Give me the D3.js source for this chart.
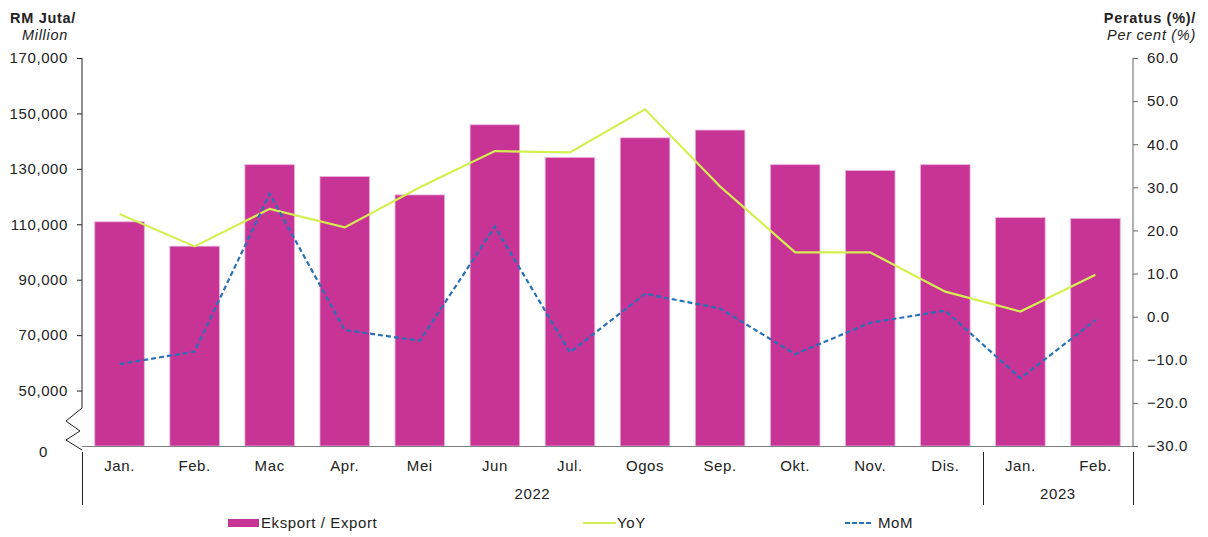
<!DOCTYPE html>
<meta charset="utf-8">
<head>
<style>
body { margin: 0; background: #fff; }
text { font-family: "Liberation Sans", Arial, sans-serif; fill: #222; }
.lbl, .tick text { font-size: 15px; letter-spacing: 0.6px; }
.ttl { font-size: 14.5px; letter-spacing: 0.7px; }
</style>
<script src="https://d3js.org/d3.v7.min.js"></script>
</head>
<body>
<svg width="1208" height="537"></svg>
<script>

var months = ["Jan.", "Feb.", "Mac", "Apr.", "Mei", "Jun", "Jul.", "Ogos", "Sep.", "Okt.", "Nov.", "Dis.", "Jan.", "Feb."];
var years = [{ label: "2022", from: 0, to: 12 }, { label: "2023", from: 12, to: 14 }];
var exportValues = [110900, 102100, 131500, 127200, 120600, 145900, 134100, 141200, 144000, 131500, 129400, 131500, 112400, 112100];
var yoyValues = [23.8, 16.3, 25.0, 20.7, 30.0, 38.4, 38.1, 48.1, 30.2, 14.9, 14.9, 5.8, 1.2, 9.7];
var momValues = [-11.0, -8.1, 28.5, -3.1, -5.6, 20.9, -8.3, 5.3, 1.9, -8.7, -1.4, 1.4, -14.3, -0.8];
var leftTicks = [50000, 70000, 90000, 110000, 130000, 150000, 170000];
var rightTicks = [-30, -20, -10, 0, 10, 20, 30, 40, 50, 60];

var svg = d3.select("svg"),
    plotL = 82, plotR = 1133, plotT = 58, plotB = 446;

var x = d3.scaleBand()
    .domain(d3.range(months.length))
    .range([plotL, plotR])
    .paddingInner(0.34)
    .paddingOuter(0.17);

var yL = d3.scaleLinear().domain([30000, 170000]).range([plotB, plotT]); // broken axis: base shown as 0
var yR = d3.scaleLinear().domain([-30, 60]).range([plotB, plotT]);

var fmt = d3.format(",");

// bars
svg.append("g").selectAll("rect")
    .data(exportValues)
    .enter().append("rect")
      .attr("x", function(d, i) { return x(i); })
      .attr("width", x.bandwidth())
      .attr("y", function(d) { return yL(d); })
      .attr("height", function(d) { return plotB - yL(d); })
      .attr("fill", "#c83396")
      .attr("stroke", "#eab0db")
      .attr("stroke-width", 0.8);

// baseline
svg.append("line")
    .attr("x1", plotL).attr("x2", plotR)
    .attr("y1", plotB + 0.5).attr("y2", plotB + 0.5)
    .attr("stroke", "#7f7f7f").attr("stroke-width", 1.2);

// left axis
var gL = svg.append("g")
    .attr("transform", "translate(" + plotL + ",0)")
    .call(d3.axisLeft(yL).tickValues(leftTicks).tickFormat(fmt).tickSize(5).tickPadding(9));
gL.select(".domain").remove();
gL.selectAll(".tick line").attr("stroke", "#222");
svg.append("path")
    .attr("d", "M" + plotL + "," + plotT + "V408L66,421L80,431L66,440L" + plotL + ",450")
    .attr("fill", "none").attr("stroke", "#222").attr("stroke-width", 1);
svg.append("text")
    .attr("class", "lbl")
    .attr("x", 48).attr("y", 452).attr("dy", "0.32em")
    .attr("text-anchor", "end")
    .text("0");

// right axis
var gR = svg.append("g")
    .attr("transform", "translate(" + plotR + ",0)")
    .call(d3.axisRight(yR).tickValues(rightTicks).tickFormat(d3.format(".1f")).tickSize(5).tickPadding(9));
gR.select(".domain").attr("stroke", "#666").attr("d", "M0," + plotT + "V" + plotB);
gR.selectAll(".tick line").attr("stroke", "#666");

// lines
var line = function(vals) {
  return d3.line()
      .x(function(d, i) { return x(i) + x.bandwidth() / 2; })
      .y(function(d) { return yR(d); })(vals);
};
svg.append("path")
    .attr("d", line(yoyValues))
    .attr("fill", "none").attr("stroke", "#d4ef50").attr("stroke-width", 2.2);
svg.append("path")
    .attr("d", line(momValues))
    .attr("fill", "none").attr("stroke", "#2a72b6").attr("stroke-width", 2.2)
    .attr("stroke-dasharray", "5,3");

// category labels
svg.append("g").selectAll("text")
    .data(months)
    .enter().append("text")
      .attr("class", "lbl")
      .attr("x", function(d, i) { return x(i) + x.bandwidth() / 2; })
      .attr("y", 466).attr("dy", "0.32em")
      .attr("text-anchor", "middle")
      .text(function(d) { return d; });

var step = x.step();
svg.append("g").selectAll("text")
    .data(years)
    .enter().append("text")
      .attr("class", "lbl")
      .attr("x", function(d) { return plotL + step * (d.from + d.to) / 2; })
      .attr("y", 494).attr("dy", "0.32em")
      .attr("text-anchor", "middle")
      .text(function(d) { return d.label; });

svg.append("g").selectAll("line")
    .data([0, 12, 14])
    .enter().append("line")
      .attr("x1", function(d) { return Math.round(plotL + step * d) + 0.5; })
      .attr("x2", function(d) { return Math.round(plotL + step * d) + 0.5; })
      .attr("y1", 452).attr("y2", 505)
      .attr("stroke", "#222");

// axis titles
svg.append("text").attr("class", "ttl").attr("x", 10).attr("y", 23)
    .style("font-weight", "bold").text("RM Juta/");
svg.append("text").attr("class", "ttl").attr("x", 68).attr("y", 40)
    .attr("text-anchor", "end").style("font-style", "italic").text("Million");
svg.append("text").attr("class", "ttl").attr("x", 1196).attr("y", 23)
    .attr("text-anchor", "end").style("font-weight", "bold").text("Peratus (%)/");
svg.append("text").attr("class", "ttl").attr("x", 1196).attr("y", 40)
    .attr("text-anchor", "end").style("font-style", "italic").text("Per cent (%)");

// legend
var lg = svg.append("g");
lg.append("rect").attr("x", 228).attr("y", 519).attr("width", 31).attr("height", 8).attr("fill", "#c83396");
lg.append("text").attr("class", "lbl").attr("x", 261).attr("y", 523).attr("dy", "0.32em").text("Eksport / Export");
lg.append("line").attr("x1", 583).attr("x2", 616).attr("y1", 523).attr("y2", 523)
    .attr("stroke", "#d4ef50").attr("stroke-width", 2.2);
lg.append("text").attr("class", "lbl").attr("x", 617).attr("y", 523).attr("dy", "0.32em").text("YoY");
lg.append("line").attr("x1", 845).attr("x2", 872).attr("y1", 523).attr("y2", 523)
    .attr("stroke", "#2a72b6").attr("stroke-width", 2.2).attr("stroke-dasharray", "5,2");
lg.append("text").attr("class", "lbl").attr("x", 878).attr("y", 523).attr("dy", "0.32em").text("MoM");

</script>
</body>
